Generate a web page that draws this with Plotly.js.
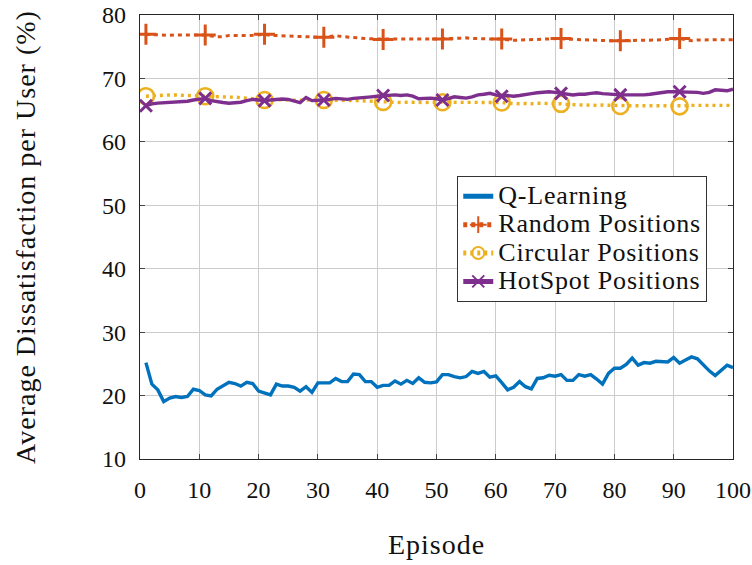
<!DOCTYPE html>
<html>
<head>
<meta charset="utf-8">
<script src="https://cdn.plot.ly/plotly-3.0.1.min.js"></script>
<style>
  html, body { margin: 0; padding: 0; background: #fff; }
  #chart { width: 752px; height: 565px; }
  .legendtext { font-size: 26px !important; letter-spacing: 0.8px; }
  .ytitle, .xtitle { letter-spacing: 1px; }
</style>
</head>
<body>
<div id="chart"></div>
<script>
// ---- data ----
const episodes = Array.from({length: 100}, (_, i) => i + 1);

const qLearning = [
  25.2, 21.8, 20.9, 19.05, 19.6, 19.85, 19.7, 19.85, 21.0, 20.8,
  20.1, 19.95, 21.0, 21.5, 22.1, 21.9, 21.5, 22.1, 21.9, 20.7,
  20.4, 20.1, 21.8, 21.5, 21.5, 21.3, 20.7, 21.4, 20.5, 22.0,
  22.0, 22.0, 22.7, 22.2, 22.2, 23.4, 23.3, 22.2, 22.2, 21.3,
  21.6, 21.6, 22.3, 21.8, 22.4, 21.9, 22.8, 22.1, 22.0, 22.15,
  23.3, 23.3, 23.0, 22.8, 23.0, 23.8, 23.5, 23.8, 22.9, 23.1,
  22.05, 20.9, 21.3, 22.2, 21.4, 21.05, 22.7, 22.8, 23.2, 23.05,
  23.3, 22.4, 22.4, 23.3, 23.05, 23.3, 22.6, 21.8, 23.5, 24.3,
  24.3, 24.9, 25.9, 24.8, 25.2, 25.1, 25.4, 25.3, 25.3, 26.0,
  25.1, 25.6, 26.1, 25.8, 24.8, 23.9, 23.15, 24.05, 24.8, 24.4
];

const randomPos = [
  76.95, 76.9, 76.85, 76.85, 76.8, 76.85, 76.85, 76.8, 76.85, 76.85,
  76.85, 76.7, 76.55, 76.6, 76.75, 76.75, 76.7, 76.75, 76.8, 76.9,
  76.95, 76.8, 76.75, 76.7, 76.65, 76.6, 76.55, 76.5, 76.5, 76.5,
  76.5, 76.6, 76.75, 76.6, 76.5, 76.4, 76.35, 76.3, 76.25, 76.2,
  76.15, 76.2, 76.2, 76.25, 76.2, 76.2, 76.25, 76.2, 76.2, 76.2,
  76.2, 76.25, 76.3, 76.35, 76.4, 76.3, 76.25, 76.2, 76.25, 76.2,
  76.2, 76.1, 76.0, 76.05, 76.1, 76.1, 76.1, 76.15, 76.2, 76.25,
  76.3, 76.2, 76.15, 76.1, 76.1, 76.05, 76.0, 76.0, 75.95, 75.95,
  75.95, 76.0, 76.05, 76.05, 76.05, 76.0, 76.05, 76.1, 76.2, 76.25,
  76.3, 76.1, 75.95, 76.05, 76.1, 76.1, 76.1, 76.1, 76.1, 76.1
];

const circularPos = [
  67.2, 67.2, 67.3, 67.35, 67.4, 67.4, 67.35, 67.3, 67.3, 67.25,
  67.2, 67.15, 67.1, 67.1, 67.05, 67.05, 67.0, 66.9, 66.8, 66.7,
  66.6, 66.6, 66.65, 66.6, 66.55, 66.6, 66.55, 66.6, 66.6, 66.6,
  66.6, 66.55, 66.5, 66.5, 66.5, 66.5, 66.5, 66.45, 66.4, 66.35,
  66.3, 66.25, 66.2, 66.2, 66.25, 66.2, 66.2, 66.2, 66.25, 66.25,
  66.25, 66.2, 66.2, 66.25, 66.2, 66.15, 66.2, 66.2, 66.2, 66.2,
  66.2, 66.1, 66.0, 66.0, 66.05, 66.0, 66.1, 66.1, 66.05, 66.0,
  66.0, 65.9, 65.85, 65.8, 65.8, 65.8, 65.75, 65.8, 65.75, 65.7,
  65.65, 65.7, 65.7, 65.7, 65.65, 65.7, 65.7, 65.7, 65.65, 65.6,
  65.6, 65.7, 65.75, 65.75, 65.75, 65.75, 65.7, 65.75, 65.75, 65.75
];

const hotspotPos = [
  65.7, 66.0, 66.1, 66.15, 66.2, 66.25, 66.3, 66.4, 66.6, 66.75,
  66.85, 66.5, 66.3, 66.2, 66.1, 66.15, 66.25, 66.5, 66.7, 66.6,
  66.5, 66.6, 66.7, 66.75, 66.7, 66.5, 66.2, 67.0, 66.5, 66.55,
  66.6, 66.7, 66.85, 66.8, 66.7, 66.85, 66.9, 67.0, 67.1, 67.2,
  67.3, 67.4, 67.4, 67.3, 67.4, 67.2, 66.8, 66.85, 66.9, 66.8,
  66.6, 66.8, 67.1, 67.0, 66.9, 67.1, 67.4, 67.5, 67.65, 67.4,
  67.2, 67.3, 67.2, 67.3, 67.5, 67.6, 67.75, 67.85, 67.9, 67.8,
  67.65, 67.55, 67.4, 67.5, 67.5, 67.65, 67.75, 67.6, 67.5, 67.45,
  67.4, 67.4, 67.4, 67.35, 67.4, 67.5, 67.65, 67.8, 67.9, 67.9,
  67.9, 67.9, 67.85, 67.8, 67.65, 67.8, 68.2, 68.1, 68.05, 68.3
];

const seriesNames = ['Q-Learning', 'Random Positions', 'Circular Positions', 'HotSpot Positions'];
const xTicks = [0, 10, 20, 30, 40, 50, 60, 70, 80, 90, 100];
const yTicks = [10, 20, 30, 40, 50, 60, 70, 80];

// markers drawn every 10th episode (1, 11, 21, ...)
const markIdx = episodes.map((e, i) => i).filter(i => i % 10 === 0);

const FONT = '"Liberation Serif", "Times New Roman", serif';

const traces = [
  {
    x: episodes, y: qLearning, name: seriesNames[0], type: 'scatter', mode: 'lines',
    line: {color: '#0072BD', width: 3.4}
  },
  {
    x: episodes, y: randomPos, name: seriesNames[1], type: 'scatter', mode: 'lines+markers',
    line: {color: '#D95319', width: 3, dash: '4px,4px'},
    marker: {symbol: 'cross-thin', size: 15, color: '#D95319', line: {color: '#D95319', width: 3}},
    selectedpoints: markIdx,
    selected: {marker: {opacity: 1}},
    unselected: {marker: {opacity: 0}}
  },
  {
    x: episodes, y: circularPos, name: seriesNames[2], type: 'scatter', mode: 'lines+markers',
    line: {color: '#EDB120', width: 3.4, dash: '3px,4px'},
    marker: {symbol: 'circle-open', size: 16, color: '#EDB120', line: {color: '#EDB120', width: 2.6}},
    selectedpoints: markIdx,
    selected: {marker: {opacity: 1}},
    unselected: {marker: {opacity: 0}}
  },
  {
    x: episodes, y: hotspotPos, name: seriesNames[3], type: 'scatter', mode: 'lines+markers',
    line: {color: '#7E2F8E', width: 3.4},
    marker: {symbol: 'x-thin', size: 12, color: '#7E2F8E', line: {color: '#7E2F8E', width: 3}},
    selectedpoints: markIdx,
    selected: {marker: {opacity: 1}},
    unselected: {marker: {opacity: 0}}
  }
];

const axisCommon = {
  showline: true, linecolor: '#262626', linewidth: 1.2, mirror: 'ticks',
  ticks: 'inside', ticklen: 5, tickwidth: 1, tickcolor: '#444',
  showgrid: true, gridcolor: '#cccccc', gridwidth: 1,
  zeroline: false,
  tickfont: {family: FONT, size: 24, color: '#111'}
};

const layout = {
  width: 752, height: 565,
  margin: {l: 140, r: 19, t: 15, b: 106},
  paper_bgcolor: '#fff', plot_bgcolor: '#fff',
  font: {family: FONT, color: '#111'},
  showlegend: true,
  legend: {
    x: 0.535, y: 0.637, xanchor: 'left', yanchor: 'top',
    bgcolor: '#fff', bordercolor: '#333', borderwidth: 1,
    font: {family: FONT, size: 19.5, color: '#111'},
    itemsizing: 'constant', tracegroupgap: 0
  },
  xaxis: Object.assign({}, axisCommon, {
    range: [0, 100], tickvals: xTicks, ticktext: xTicks.map(String),
    ticklabelstandoff: 9,
    title: {text: 'Episode', font: {family: FONT, size: 28, color: '#111'}, standoff: 32}
  }),
  yaxis: Object.assign({}, axisCommon, {
    range: [10, 80], tickvals: yTicks, ticktext: yTicks.map(String),
    ticklabelstandoff: 8,
    title: {text: 'Average Dissatisfaction per User (%)', font: {family: FONT, size: 28, color: '#111'}, standoff: 58}
  })
};

Plotly.newPlot('chart', traces, layout, {displayModeBar: false, staticPlot: true});
</script>
</body>
</html>
